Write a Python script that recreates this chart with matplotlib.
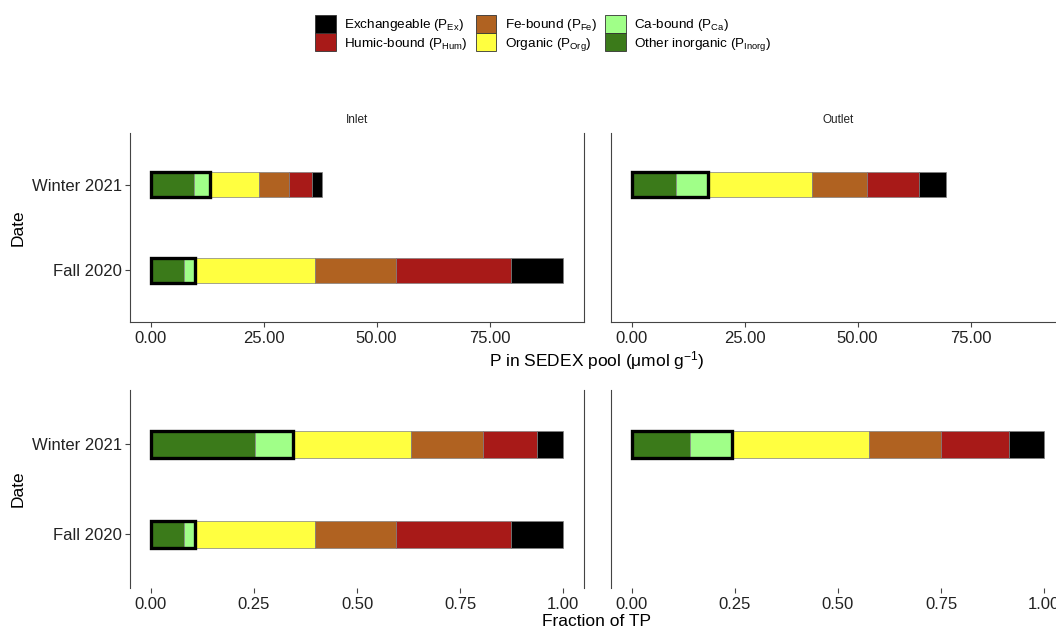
import numpy as np
import matplotlib
matplotlib.use("Agg")
import matplotlib.pyplot as plt
import matplotlib.patches as mpatches

plt.rcParams['font.family'] = ['Liberation Sans', 'DejaVu Sans']
plt.rcParams['mathtext.default'] = 'regular'

# ---- data (umol/g) ----
dates = ['Fall 2020', 'Winter 2021']
sites = ['Inlet', 'Outlet']
pools = ['Other inorganic', 'Ca-bound', 'Organic', 'Fe-bound', 'Humic-bound', 'Exchangeable']
pool_colors = ['#3b7a1a', '#a0ff88', '#ffff40', '#b06221', '#a81a18', '#000000']

# values per pool, in the order of `pools`; None = no sample
inlet_fall = [7.4, 2.4, 26.5, 17.9, 25.6, 11.5]
inlet_winter = [9.6, 3.5, 10.9, 6.6, 5.0, 2.4]
outlet_fall = None
outlet_winter = [9.8, 7.1, 23.0, 12.2, 11.4, 6.0]

site_data = {
    'Inlet': {'Fall 2020': inlet_fall, 'Winter 2021': inlet_winter},
    'Outlet': {'Fall 2020': outlet_fall, 'Winter 2021': outlet_winter},
}

legend_order = ['Exchangeable', 'Humic-bound', 'Fe-bound', 'Organic', 'Ca-bound', 'Other inorganic']
legend_labels = {
    'Exchangeable': 'Exchangeable (P$_{Ex}$)',
    'Humic-bound': 'Humic-bound (P$_{Hum}$)',
    'Fe-bound': 'Fe-bound (P$_{Fe}$)',
    'Organic': 'Organic (P$_{Org}$)',
    'Ca-bound': 'Ca-bound (P$_{Ca}$)',
    'Other inorganic': 'Other inorganic (P$_{Inorg}$)',
}

W, H = 1056, 629
fig = plt.figure(figsize=(W / 100, H / 100), dpi=100)

SPINE = '#444444'
BAR_H = 0.3


def panel(rect_px, site, fraction, show_y):
    x0, top, w, bottom = rect_px
    ax = fig.add_axes([x0 / W, 1 - bottom / H, w / W, (bottom - top) / H])
    for yi, d in enumerate(dates, start=1):
        vals = site_data[site][d]
        if vals is None:
            continue
        vals = np.array(vals, dtype=float)
        if fraction:
            vals = vals / vals.sum()
        left = 0.0
        for v, c in zip(vals, pool_colors):
            ax.barh(yi, v, left=left, height=BAR_H, color=c,
                    edgecolor='#808080', linewidth=0.5)
            left += v
        # thick outline around total inorganic (other inorganic + Ca-bound)
        ax.barh(yi, vals[0] + vals[1], height=BAR_H, fill=False,
                edgecolor='black', linewidth=2.4, zorder=3)

    ax.set_ylim(0.4, 2.6)
    ax.set_yticks([1, 2])
    if fraction:
        ax.set_xlim(-0.05, 1.05)
        ax.set_xticks([0, 0.25, 0.5, 0.75, 1.0])
        ax.set_xticklabels(['0.00', '0.25', '0.50', '0.75', '1.00'])
    else:
        ax.set_xlim(-4.57, 95.9)
        ax.set_xticks([0, 25, 50, 75])
        ax.set_xticklabels(['0.00', '25.00', '50.00', '75.00'])

    for s in ['left', 'right', 'bottom']:
        ax.spines[s].set_color(SPINE)
        ax.spines[s].set_linewidth(0.8)
    ax.spines['top'].set_visible(False)
    ax.spines['bottom'].set_visible(not fraction)

    ax.tick_params(axis='x', length=3.5, width=0.8, color=SPINE, pad=3,
                   labelsize=12, labelcolor='#222222')
    if show_y:
        ax.set_yticklabels(dates)
        ax.tick_params(axis='y', length=3.5, width=0.8, color=SPINE, pad=2,
                       labelsize=12, labelcolor='#222222')
    else:
        ax.tick_params(axis='y', left=False, labelleft=False)
    return ax


# top row: absolute pools, bottom row: fraction of TP
ax_in = panel((130, 133, 454, 322), 'Inlet', False, True)
ax_out = panel((611, 133, 454, 322), 'Outlet', False, False)
panel((130, 390, 454, 588), 'Inlet', True, True)
panel((611, 390, 454, 588), 'Outlet', True, False)

for ax, site in [(ax_in, 'Inlet'), (ax_out, 'Outlet')]:
    ax.text(0.5, 1.069, site, transform=ax.transAxes, ha='center', va='center',
            fontsize=8.5, color='#222222')

fig.text(597 / W, 1 - 361 / H, 'P in SEDEX pool (μmol g$^{-1}$)',
         ha='center', va='center', fontsize=12.5)
fig.text(597 / W, 1 - 621 / H, 'Fraction of TP', ha='center', va='center', fontsize=12.5)
fig.text(18.5 / W, 1 - 228 / H, 'Date', rotation=90, ha='center', va='center', fontsize=12.5)
fig.text(18.5 / W, 1 - 489 / H, 'Date', rotation=90, ha='center', va='center', fontsize=12.5)

handles = [mpatches.Patch(facecolor=pool_colors[pools.index(p)], edgecolor='#333333',
                          linewidth=0.6, label=legend_labels[p]) for p in legend_order]
fig.legend(handles=handles, ncol=3, loc='center', bbox_to_anchor=(543 / W, 1 - 34 / H),
           frameon=False, fontsize=9.7, handlelength=1.55, handleheight=1.6,
           labelspacing=0.0, handletextpad=0.6, columnspacing=0.6, borderpad=0)

fig.savefig('out.png', dpi=100)
